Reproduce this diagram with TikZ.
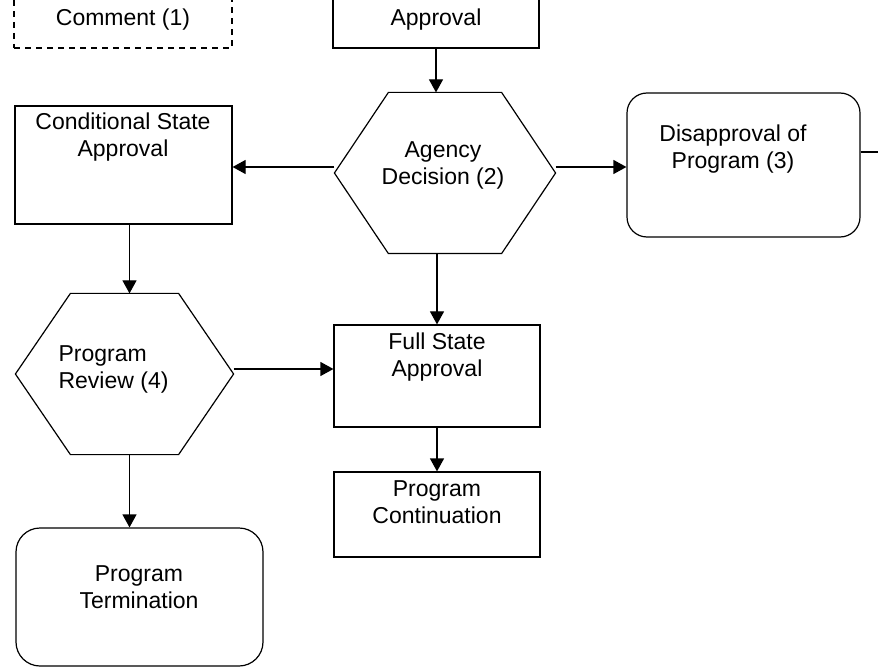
\documentclass[tikz,border=0pt]{standalone}
\usepackage{fontspec}
\setmainfont{Liberation Sans}
\usetikzlibrary{arrows.meta}
\begin{document}
\begin{tikzpicture}[x=1pt,y=-1pt,
  line width=1.2pt,
  box/.style={draw, rectangle, inner sep=0pt},
  rbox/.style={draw, rectangle, rounded corners=20pt, inner sep=0pt},
  hexframe/.style={rectangle, inner sep=0pt},
  txt/.style={font=\fontsize{23}{27}\selectfont, align=center, inner sep=0pt},
  arr/.style={-{Triangle[length=13pt,width=14pt]}},
]
\useasboundingbox (0,0) rectangle (878,668);
\clip (0,0) rectangle (878,668);

% top partial boxes
\node[box, dash pattern=on 6pt off 5pt, minimum width=218pt, minimum height=70pt] (com) at (123,13) {};
\node[txt] (comt) at (123,20) {Comment (1)};
\node[box, minimum width=206pt, minimum height=70pt] (appr) at (436,13) {};
\node[txt] (apprt) at (436,20) {Approval};

% agency decision hexagon
\node[hexframe, minimum width=220pt, minimum height=160pt] (ag) at (445,173) {};
\draw (ag.west) -- ([xshift=54pt]ag.north west) -- ([xshift=-54pt]ag.north east) -- (ag.east)
  -- ([xshift=-54pt]ag.south east) -- ([xshift=54pt]ag.south west) -- cycle;
\node[txt] (agt) at (443,165) {Agency\\Decision (2)};

% conditional state approval
\node[box, minimum width=217pt, minimum height=118pt] (csa) at (123.5,165) {};
\node[txt] (csat) at (123,137) {Conditional State\\Approval};

% disapproval
\node[rbox, minimum width=233pt, minimum height=144pt] (dis) at (743.5,165) {};
\node[txt] (dist) at (733,149) {Disapproval of\\Program (3)};

% program review hexagon
\node[hexframe, minimum width=217pt, minimum height=160pt] (pr) at (124.5,374) {};
\draw (pr.west) -- ([xshift=55pt]pr.north west) -- ([xshift=-55pt]pr.north east) -- (pr.east)
  -- ([xshift=-55pt]pr.south east) -- ([xshift=55pt]pr.south west) -- cycle;
\node[txt, align=left, anchor=west] (prt) at (58,369) {Program\\Review (4)};

% full state approval
\node[box, minimum width=206pt, minimum height=102pt] (fsa) at (437,376) {};
\node[txt] (fsat) at (437,357) {Full State\\Approval};

% program continuation
\node[box, minimum width=206pt, minimum height=85pt] (pc) at (437,514.5) {};
\node[txt] (pct) at (437,502) {Program\\Continuation};

% program termination
\node[rbox, rounded corners=24pt, minimum width=247pt, minimum height=138pt] (pt) at (139.5,597) {};
\node[txt] (ptt) at (139,587) {Program\\Termination};

% connectors
\draw[arr] (appr.south) -- (appr.south |- ag.north);
\draw[arr] ([yshift=6pt]ag.west) -- ([yshift=6pt]ag.west -| csa.east);
\draw[arr] ([yshift=6pt]ag.east) -- ([yshift=6pt]ag.east -| dis.west);
\draw[arr] (ag.south -| fsa.north) -- (fsa.north);
\draw[arr] ([xshift=6pt]csa.south) -- ([xshift=6pt]csa.south |- pr.north);
\draw[arr] ([yshift=5pt]pr.east) -- ([yshift=5pt]pr.east -| fsa.west);
\draw[arr] ([xshift=5pt]pr.south) -- ([xshift=5pt]pr.south |- pt.north);
\draw[arr] (fsa.south) -- (pc.north);
\coordinate (offR) at (885,152);
\draw ([yshift=13pt]dis.east) -- (offR);
\end{tikzpicture}
\end{document}
